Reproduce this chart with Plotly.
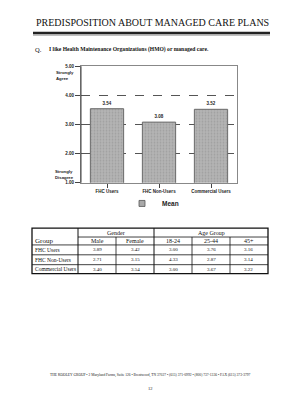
import plotly.graph_objects as go

# ---- data ----
categories = ["FHC Users", "FHC Non-Users", "Commercial Users"]
mean_values = [3.54, 3.08, 3.52]
y_ticks = [1, 2, 3, 4, 5]

table_groups = ["FHC Users", "FHC Non-Users", "Commercial Users"]
table_subheads = ["Male", "Female", "18-24", "25-44", "45+"]
male = [3.89, 2.71, 3.40]
female = [3.42, 3.15, 3.54]
age_18_24 = [3.00, 4.33, 3.00]
age_25_44 = [3.76, 2.87, 3.67]
age_45 = [3.16, 3.14, 3.22]

W, H = 303, 400
def px(x): return x / W
def py(y): return 1 - y / H

fig = go.Figure()
fig.add_trace(go.Bar(
    x=categories, y=mean_values, name="Mean", width=0.64, showlegend=False,
    marker=dict(color="#a9a9a9", line=dict(color="#6a6a6a", width=1),
                pattern=dict(shape=".", fgcolor="#8c8c8c", bgcolor="#b4b4b4", size=3, solidity=0.3)),
    text=[f"{v:.2f}" for v in mean_values], textposition="outside",
    textfont=dict(family="Arial", size=4.5, color="#222", weight="bold"), cliponaxis=False,
))
# legend entry (small square swatch like the reference)
fig.add_trace(go.Scatter(
    x=[None], y=[None], mode="markers", name="Mean",
    marker=dict(symbol="square", size=6, color="#a9a9a9", line=dict(color="#555", width=0.8)),
))

fig.update_layout(
    width=W, height=H, margin=dict(l=0, r=0, t=0, b=0),
    paper_bgcolor="white", plot_bgcolor="white",
    showlegend=True,
    legend=dict(x=px(122), y=py(204), xanchor="left", yanchor="middle", orientation="h",
                font=dict(family="Arial", size=6.5, color="#222", weight="bold"),
                itemwidth=30, bgcolor="rgba(0,0,0,0)"),
    xaxis=dict(domain=[px(81), px(237)], range=[-0.5, 2.5], showline=True, mirror=True,
               linecolor="#888", linewidth=1, ticks="outside", ticklen=4, tickcolor="#444",
               tickfont=dict(family="Arial", size=4.5, color="#222", weight="bold"), showgrid=False),
    yaxis=dict(domain=[py(183), py(65)], range=[1, 5], tickvals=y_ticks,
               ticktext=[f"{v:.2f}" for v in y_ticks], showline=True, mirror=True,
               linecolor="#888", linewidth=1, ticks="outside", ticklen=5, tickcolor="#444",
               tickfont=dict(family="Arial", size=4.5, color="#222", weight="bold"),
               showgrid=True, gridcolor="#555", griddash="dash", gridwidth=1, zeroline=False),
    bargap=0.3,
)

ann = []
ann.append(dict(text="PREDISPOSITION ABOUT MANAGED CARE PLANS", x=px(152), y=py(21),
                font=dict(family="Liberation Serif", size=10, color="#111")))
ann.append(dict(text="Q.", x=px(33), y=py(48), xanchor="left",
                font=dict(family="Liberation Serif", size=6.5, color="#111")))
ann.append(dict(text="<b>I like Health Maintenance Organizations (HMO) or managed care.</b>",
                x=px(47), y=py(48), xanchor="left",
                font=dict(family="Liberation Serif", size=5.6, color="#111")))
ann.append(dict(text="<b>Strongly<br>Agree</b>", x=px(76), y=py(74), xanchor="right",
                align="left", font=dict(family="Arial", size=4.3, color="#222")))
ann.append(dict(text="<b>Strongly<br>Disagree</b>", x=px(76), y=py(175), xanchor="right",
                align="left", font=dict(family="Arial", size=4.3, color="#222")))

# ---- table ----
col_edges = [32, 78, 116, 154, 192, 230, 268]
row_edges = [229, 238, 246, 256, 266, 275]
sfont = dict(family="Liberation Serif", size=6, color="#111")
vfont = dict(family="Liberation Serif", size=5, color="#111")
ann.append(dict(text="Group", x=px(33), y=py(242), xanchor="left", font=dict(family="Liberation Serif", size=7, color="#111")))
ann.append(dict(text="Gender", x=px((col_edges[1] + col_edges[3]) / 2), y=py(233.5), font=sfont))
ann.append(dict(text="Age Group", x=px((col_edges[3] + col_edges[6]) / 2), y=py(233.5), font=sfont))
for i, s in enumerate(table_subheads):
    ann.append(dict(text=s, x=px((col_edges[i + 1] + col_edges[i + 2]) / 2), y=py(242), font=sfont))
cols = [male, female, age_18_24, age_25_44, age_45]
for r, g in enumerate(table_groups):
    yc = (row_edges[r + 2] + row_edges[r + 3]) / 2
    ann.append(dict(text=g, x=px(33), y=py(yc), xanchor="left",
                    font=dict(family="Liberation Serif", size=5.5, color="#111")))
    for c, vals in enumerate(cols):
        ann.append(dict(text=f"{vals[r]:.2f}", x=px((col_edges[c + 1] + col_edges[c + 2]) / 2),
                        y=py(yc), font=vfont))

ann.append(dict(text="THE KOOLEY GROUP • 2 Maryland Farms, Suite 126 • Brentwood, TN 37027 • (615) 371-0992 • (800) 737-1336 • FAX (615) 373-3797",
                x=px(150), y=py(378), font=dict(family="Liberation Serif", size=3.6, color="#222")))
ann.append(dict(text="12", x=px(150), y=py(391), font=dict(family="Liberation Serif", size=4.5, color="#222")))

for a in ann:
    a.setdefault("xref", "paper"); a.setdefault("yref", "paper"); a.setdefault("showarrow", False)
    a.setdefault("xanchor", "center"); a.setdefault("yanchor", "middle")
fig.update_layout(annotations=ann)

shapes = []
def line(x0, y0, x1, y1, w=1, c="#111"):
    shapes.append(dict(type="line", xref="paper", yref="paper", x0=px(x0), y0=py(y0),
                       x1=px(x1), y1=py(y1), line=dict(color=c, width=w)))
# title rule
line(33, 31.5, 270, 31.5, 2.5, "#222")
line(33, 33.5, 270, 33.5, 0.8, "#777")
# darker left axis line
line(81, 65, 81, 183, 1, "#444")
# table outer border
shapes.append(dict(type="rect", xref="paper", yref="paper", x0=px(32), y0=py(275), x1=px(268), y1=py(229),
                   line=dict(color="#111", width=1.3)))
line(col_edges[1], row_edges[1], col_edges[6], row_edges[1], 0.8)
for r in range(2, 5):
    line(col_edges[0], row_edges[r], col_edges[6], row_edges[r], 0.8)
line(col_edges[1], row_edges[0], col_edges[1], row_edges[5], 1)
line(col_edges[3], row_edges[0], col_edges[3], row_edges[5], 1)
for c in (2, 4, 5):
    line(col_edges[c], row_edges[1], col_edges[c], row_edges[5], 0.8)
fig.update_layout(shapes=shapes)

fig.write_html("out.html")
